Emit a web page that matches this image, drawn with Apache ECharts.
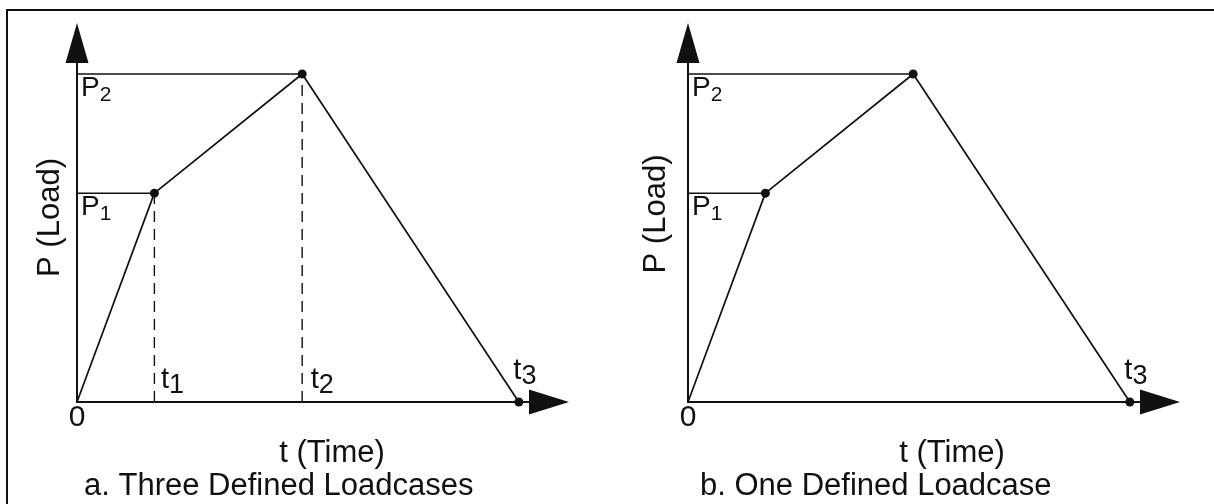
<!DOCTYPE html>
<html>
<head>
<meta charset="utf-8">
<script src="https://cdn.jsdelivr.net/npm/echarts@6/dist/echarts.min.js"></script>
<style>
  html, body { margin: 0; padding: 0; background: #fff; }
  #chart { width: 1214px; height: 504px; }
</style>
</head>
<body>
<div id="chart"></div>
<script>
// load history, same shape in both panels (arbitrary units)
const times = [0, 1.0, 2.91, 5.71];
const loads = [0, 2.56, 4.02, 0];
const timeTicks = [['t', '1'], ['t', '2'], ['t', '3']];
const loadTicks = [['P', '1'], ['P', '2']];
const originLabel = '0';
const axisNames = ['t (Time)', 'P (Load)'];
const captions = ['a. Three Defined Loadcases', 'b. One Defined Loadcase'];

const X_MAX = 6.1;
const Y_MAX = 4.4;
const FONT = "'Liberation Sans', Arial, sans-serif";
const INK = '#111111';

// layout per panel
const panels = [
  { left: 77, dashed: true, tShown: [1, 2, 3], yNameGap: 11, yNamePad: 10, xNamePad: 38, captionLeft: 84 },
  { left: 688, dashed: false, tShown: [3], yNameGap: 16, yNamePad: 17, xNamePad: 56, captionLeft: 700 }
];
// label offsets for t1, t2, t3 (relative to the point on the time axis)
const tLabelPos = { 1: [7, -2], 2: [9, -2], 3: [-5, -11] };

const chart = echarts.init(document.getElementById('chart'));

const sub = (pair) => `{m|${pair[0]}}{s|${pair[1]}}`;

const series = [];
panels.forEach((p, i) => {
  const axes = { xAxisIndex: i, yAxisIndex: i };

  // reference levels P1, P2
  [1, 2].forEach(k => {
    series.push({
      type: 'line', ...axes, symbol: 'none', silent: true, z: 2,
      lineStyle: { color: INK, width: 1.5 },
      data: [[0, loads[k]], [times[k], loads[k]]]
    });
  });

  // dashed drop lines at t1, t2
  if (p.dashed) {
    [1, 2].forEach(k => {
      series.push({
        type: 'line', ...axes, symbol: 'none', silent: true, z: 2,
        lineStyle: { color: INK, width: 1.4, type: [11, 7] },
        data: [[times[k], 0], [times[k], loads[k]]]
      });
    });
  }

  // load path
  series.push({
    type: 'line', ...axes, z: 3,
    symbolSize: 9,
    itemStyle: { color: INK },
    lineStyle: { color: INK, width: 1.7 },
    data: times.map((t, k) => ({ value: [t, loads[k]], symbol: k === 0 ? 'none' : 'circle' }))
  });

  // time labels t1..t3
  series.push({
    type: 'scatter', ...axes, symbolSize: 1, silent: true, z: 4,
    itemStyle: { color: '#fff', opacity: 0 },
    data: p.tShown.map(k => ({
      value: [times[k], 0],
      label: {
        show: true,
        opacity: 1,
        color: INK,
        position: tLabelPos[k],
        align: 'left',
        verticalAlign: 'bottom',
        formatter: sub(timeTicks[k - 1]),
        rich: {
          m: { fontFamily: FONT, fontSize: 29, color: INK, verticalAlign: 'top' },
          s: { fontFamily: FONT, fontSize: 27, color: INK, verticalAlign: 'top', padding: [7, 0, 0, 0] }
        }
      }
    }))
  });
});

const option = {
  animation: false,
  backgroundColor: '#fff',
  graphic: [{
    type: 'rect', silent: true,
    shape: { x: 7, y: 10, width: 1300, height: 600 },
    style: { fill: 'none', stroke: INK, lineWidth: 2 }
  }],
  title: panels.map((p, i) => ({
    text: captions[i],
    left: p.captionLeft,
    top: 471,
    padding: 0,
    textStyle: { fontFamily: FONT, fontSize: 31, fontWeight: 'normal', color: INK }
  })),
  grid: panels.map(p => ({ left: p.left, top: 43, width: 472, height: 359 })),
  xAxis: panels.map((p, i) => ({
    gridIndex: i, type: 'value', min: 0, max: X_MAX,
    name: axisNames[0], nameLocation: 'middle', nameGap: 32,
    nameTextStyle: { fontFamily: FONT, fontSize: 31, color: INK, padding: [0, 0, 0, p.xNamePad] },
    axisLine: {
      show: true, onZero: false,
      symbol: ['none', 'triangle'], symbolSize: [25, 40],
      lineStyle: { color: INK, width: 2 }
    },
    axisTick: { show: false },
    splitLine: { show: false },
    axisLabel: {
      customValues: [times[0]],
      formatter: () => originLabel,
      margin: 1,
      fontFamily: FONT, fontSize: 30, color: INK
    }
  })),
  yAxis: panels.map((p, i) => ({
    gridIndex: i, type: 'value', min: 0, max: Y_MAX,
    name: axisNames[1], nameLocation: 'middle', nameRotate: 90, nameGap: p.yNameGap,
    nameTextStyle: { fontFamily: FONT, fontSize: 31, color: INK, padding: [0, 0, 0, p.yNamePad] },
    axisLine: {
      show: true, onZero: false,
      symbol: ['none', 'triangle'], symbolSize: [23, 40],
      lineStyle: { color: INK, width: 2 }
    },
    axisTick: { show: false },
    splitLine: { show: false },
    axisLabel: {
      inside: true,
      customValues: [loads[1], loads[2]],
      formatter: (v) => {
        const k = Math.abs(v - loads[1]) < 1e-6 ? 0 : 1;
        return sub(loadTicks[k]);
      },
      color: INK,
      align: 'left',
      verticalAlign: 'top',
      margin: 4,
      rich: {
        m: { fontFamily: FONT, fontSize: 28, color: INK, verticalAlign: 'top' },
        s: { fontFamily: FONT, fontSize: 21, color: INK, verticalAlign: 'top', padding: [11, 0, 0, 0] }
      }
    }
  })),
  series: series
};

chart.setOption(option);
</script>
</body>
</html>
